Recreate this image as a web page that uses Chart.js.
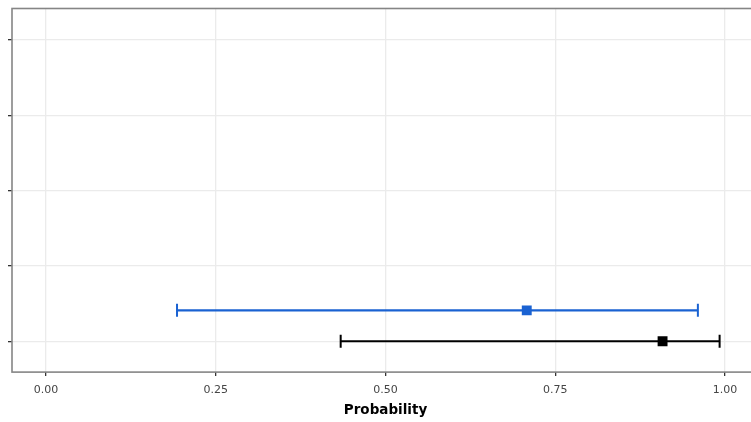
<!DOCTYPE html>
<html>
<head>
<meta charset="utf-8">
<script src="https://cdn.jsdelivr.net/npm/chart.js@4"></script>
<style>
  html, body { margin: 0; padding: 0; background: #fff; overflow: hidden; }
  #wrap { width: 770px; height: 422px; }
</style>
</head>
<body>
<div id="wrap"><canvas id="forest"></canvas></div>
<script>
// waarden
const xTicks = [0, 0.25, 0.5, 0.75, 1.0];
const yTicks = [1, 2, 3, 4, 5];
const rowPos = [1.41, 1.0]; // blauw, zwart
const estimates = [0.708, 0.908];
const lowers = [0.193, 0.434];
const uppers = [0.960, 0.992];
const colors = ["#1a62d2", "#000000"];

const datasets = [];
rowPos.forEach((y, i) => {
  // interval met kapjes aan de uiteinden
  datasets.push({
    type: "line",
    data: [{ x: lowers[i], y: y }, { x: uppers[i], y: y }],
    borderColor: colors[i],
    borderWidth: 2.2,
    pointStyle: "line",
    rotation: 90,
    pointRadius: 6.5,
    pointBorderWidth: 2,
    pointBorderColor: colors[i],
    fill: false,
  });
  // punt schatting
  datasets.push({
    type: "scatter",
    data: [{ x: estimates[i], y: y }],
    pointStyle: "rect",
    pointRadius: 7,
    backgroundColor: colors[i],
    borderColor: colors[i],
    borderWidth: 0,
  });
});

// kader rond het paneel
const panelBorder = {
  id: "panelBorder",
  afterDraw(chart) {
    const a = chart.chartArea;
    const ctx = chart.ctx;
    ctx.save();
    ctx.strokeStyle = "#858585";
    ctx.lineWidth = 1.6;
    ctx.strokeRect(a.left, a.top, a.right - a.left, a.bottom - a.top);
    ctx.restore();
  },
};

new Chart(document.getElementById("forest"), {
  data: { datasets: datasets },
  plugins: [panelBorder],
  options: {
    responsive: true,
    maintainAspectRatio: false,
    animation: false,
    layout: { padding: { top: 4.5, right: 11, left: 0, bottom: 3.5 } },
    plugins: { legend: { display: false }, tooltip: { enabled: false } },
    scales: {
      x: {
        type: "linear",
        min: -0.05,
        max: 1.05,
        afterBuildTicks: (axis) => { axis.ticks = xTicks.map((v) => ({ value: v })); },
        ticks: {
          callback: (v) => Number(v).toFixed(2),
          color: "#454545",
          font: { family: "DejaVu Sans", size: 11 },
          padding: 7,
          maxRotation: 0,
        },
        grid: { color: "#ebebeb", lineWidth: 1.3, tickColor: "#333", tickLength: 4 },
        border: { display: false },
        title: {
          display: true,
          text: "Probability",
          color: "#000",
          font: { family: "DejaVu Sans", size: 13.5, weight: "bold" },
          padding: { top: -1, bottom: 0 },
        },
      },
      y: {
        type: "linear",
        min: 0.59,
        max: 5.42,
        afterBuildTicks: (axis) => { axis.ticks = yTicks.map((v) => ({ value: v })); },
        afterFit: (axis) => { axis.width = 12; },
        ticks: { callback: () => "", padding: 0 },
        grid: { color: "#ebebeb", lineWidth: 1.3, tickColor: "#333", tickLength: 4 },
        border: { display: false },
      },
    },
  },
});
</script>
</body>
</html>
